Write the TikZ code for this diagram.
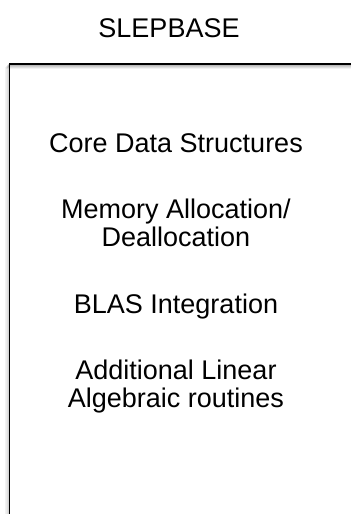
\documentclass[tikz,border=0pt]{standalone}
\usepackage{fontspec}
\setmainfont{Liberation Sans}
\begin{document}
\begin{tikzpicture}[x=1pt,y=1pt,lbl/.style={font=\fontsize{27}{28}\selectfont,align=center,anchor=base,inner sep=0pt},frame/.style={line width=1.6pt}]
		\useasboundingbox (0,0) rectangle (351,-514);
		\foreach \s/\o in {4/0.05,3/0.08,2/0.12,1/0.17}
		\draw[line width=1.6pt,black,opacity=\o] (351,-64-\s)--(9.5-\s,-64-\s)--(9.5-\s,-514);
		\draw[frame] (351,-64)--(9.5,-64)--(9.5,-514);
		\node[lbl] (title) at (169,-37) {SLEPBASE};
		\node[lbl] (core) at (176,-152) {Core Data Structures};
		\node[lbl] (mem) at (176,-246) {Memory Allocation/\\Deallocation};
		\node[lbl] (blas) at (176,-313) {BLAS Integration};
		\node[lbl] (alg) at (176,-407) {Additional Linear\\Algebraic routines};
	\end{tikzpicture}
\end{document}
